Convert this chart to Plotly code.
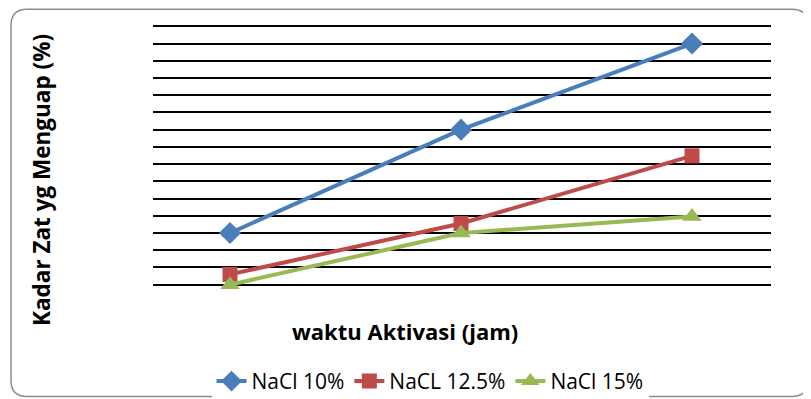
import plotly.graph_objects as go

# Data (y in grid units, no tick labels shown)
waktu = [1, 2, 3]
nacl_10 = [3.0, 9.0, 14.0]
nacl_125 = [0.6, 3.55, 7.48]
nacl_15 = [0.0, 3.0, 3.96]
series_names = ["NaCl 10%", "NaCL 12.5%", "NaCl 15%"]

OFF = 8  # page body margin
W, H = 811 - OFF, 399 - OFF
U = (285 - 26) / 15.0  # pixels per grid unit
E = 0.25               # range padding so edge gridlines are drawn
# plot area in reference pixels
PX0, PX1 = 153, 771
PY0, PY1 = 26 - E * U, 285 + E * U
L, T = PX0 - OFF, PY0 - OFF
R = W - (PX1 - OFF)
B = H - (PY1 - OFF)
pw, ph = W - L - R, H - T - B

def px(x):
    return (x - PX0) / pw

def py(y):
    return (PY1 - y) / ph

fig = go.Figure()
styles = [
    ("#4A7EBB", "diamond", 17),
    ("#BE4B48", "square", 15),
    ("#98B954", "triangle-up", 17),
]
for name, ys, (c, sym, sz) in zip(series_names, [nacl_10, nacl_125, nacl_15], styles):
    fig.add_trace(go.Scatter(
        x=waktu, y=ys, name=name, mode="lines+markers",
        line=dict(color=c, width=4),
        marker=dict(symbol=sym, size=sz, color=c),
    ))

# rounded border
x0, x1, y0, y1, r = 11, 808, 9, 397, 16
path = (
    f"M {px(x0 + r)} {py(y0)} L {px(x1 - r)} {py(y0)} "
    f"Q {px(x1)} {py(y0)} {px(x1)} {py(y0 + r)} L {px(x1)} {py(y1 - r)} "
    f"Q {px(x1)} {py(y1)} {px(x1 - r)} {py(y1)} L {px(x0 + r)} {py(y1)} "
    f"Q {px(x0)} {py(y1)} {px(x0)} {py(y1 - r)} L {px(x0)} {py(y0 + r)} "
    f"Q {px(x0)} {py(y0)} {px(x0 + r)} {py(y0)} Z"
)
fig.add_shape(type="path", path=path, xref="paper", yref="paper",
              line=dict(color="#8c8c8c", width=1.5), layer="below")

fig.add_annotation(text="<b>waktu Aktivasi (jam)</b>", x=px(405), y=py(348),
                   xref="paper", yref="paper", showarrow=False,
                   font=dict(family="Open Sans", size=22, color="black"))
fig.add_annotation(text="<b>Kadar Zat yg Menguap (%)</b>", x=px(42), y=py(180),
                   xref="paper", yref="paper", showarrow=False, textangle=-90,
                   xanchor="center", yanchor="middle",
                   font=dict(family="Open Sans", size=22.5, color="black"))

fig.update_xaxes(range=[1 - 77 / 231, 3 + 79 / 231], showgrid=False, showticklabels=False,
                 zeroline=False, showline=False, ticks="")
fig.update_yaxes(range=[-E, 15 + E], dtick=1, tick0=0, showgrid=True, gridcolor="black",
                 gridwidth=2, showticklabels=False, zeroline=False, showline=False, ticks="")

fig.update_layout(
    width=W, height=H,
    margin=dict(l=L, r=R, t=T, b=B, autoexpand=False),
    paper_bgcolor="white", plot_bgcolor="white",
    showlegend=True,
    legend=dict(orientation="h", x=px(430), xanchor="center", y=py(382), yanchor="middle",
                font=dict(family="Open Sans", size=21, color="black"),
                tracegroupgap=0),
)

fig.write_html("out.html")
